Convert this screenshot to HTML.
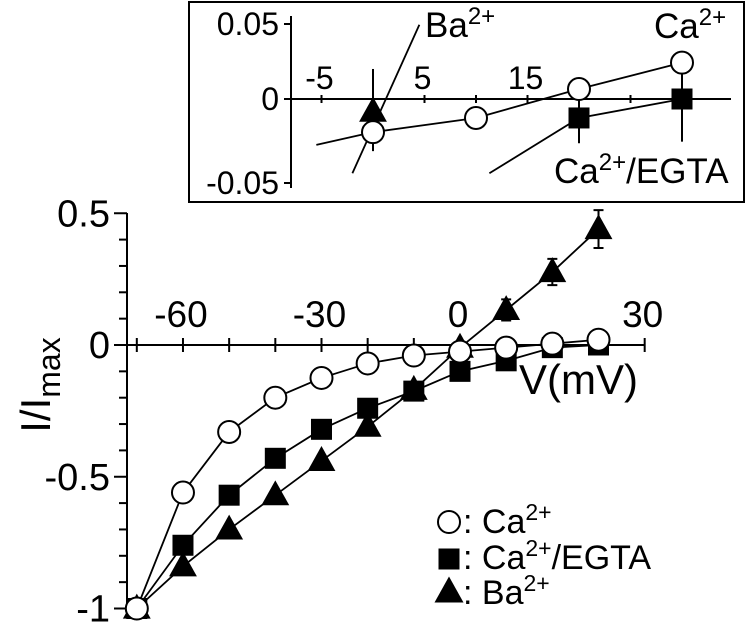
<!DOCTYPE html>
<html><head><meta charset="utf-8"><style>
html,body{margin:0;padding:0;background:#fff;}
svg{display:block;font-family:"Liberation Sans",Arial,sans-serif;}
</style></head><body>
<svg id="chart" width="750" height="623" viewBox="0 0 750 623" xmlns="http://www.w3.org/2000/svg">
<g id="main"></g>
<g id="inset"></g>
<g id="legend"></g>
</svg>
<script>
// ---- main chart data ----
const voltages = [-70,-60,-50,-40,-30,-20,-10,0,10,20,30];
const caValues = [-1,-0.56,-0.33,-0.20,-0.125,-0.07,-0.04,-0.025,-0.01,0.005,0.02];
const egtaValues = [-1,-0.76,-0.57,-0.43,-0.32,-0.24,-0.175,-0.10,-0.06,-0.01,0.0];
const baValues = [-1,-0.84,-0.70,-0.57,-0.44,-0.31,-0.17,-0.01,0.133,0.277,0.44];
const baErrors = [0,0,0,0,0,0,0,0,0.04,0.05,0.072];
const xTickValues = [-70,-60,-50,-40,-30,-20,-10,0,10,20,30,40];
const xTickLabels = [["-60",-60],["-30",-30],["0",0],["30",40]];
const yTickLabels = [["0.5",0.5],["0",0],["-0.5",-0.5],["-1",-1]];
// ---- inset data ----
const insetV = [0,10,20,30];
const insetCa = [-0.021,-0.012,0.0063,0.023];
const insetCaErr = [0.012,0,0,0];
const insetEgtaV = [20,30];
const insetEgta = [-0.012,0.0];
const insetEgtaErr = [0.016,0.027];
const insetBaV = [0];
const insetBa = [-0.008];
const insetBaErr = [0.027];
const insetCaLine = [[-5.5,-0.029],[0,-0.021],[10,-0.012],[20,0.0063],[30,0.023]];
const insetEgtaLine = [[11.3,-0.047],[20,-0.012],[30,0.0]];
const insetBaLine = [[-2.0,-0.047],[4.5,0.047]];
const insetXTicks = [-5,0,5,10,15,20,25];
const insetXLabels = [["-5",-5],["5",5],["15",15]];
const insetYLabels = [["0.05",0.05],["0",0],["-0.05",-0.05]];

const NS="http://www.w3.org/2000/svg";
function mk(parent,tag,attrs,text){const e=document.createElementNS(NS,tag);for(const k in attrs)e.setAttribute(k,attrs[k]);if(text!==undefined)e.textContent=text;parent.appendChild(e);return e;}
const X=v=>460+(v)*4.617;
const Y=v=>345-v*263.5;
const IX=v=>373+v*10.3;
const IY=v=>99-v*1580;

const main=document.getElementById('main');
let e=mk(main,'line',{x1:127,y1:213,x2:127,y2:608,stroke:'#000','stroke-width':2});

e=mk(main,'line',{x1:127,y1:345,x2:645,y2:345,stroke:'#000','stroke-width':2});

for(let i=-10;i<=5;i++){const v=i/10;const major=(i%5===0);
 e=mk(main,'line',{x1:major?114:119,y1:Y(v),x2:127,y2:Y(v),stroke:'#000','stroke-width':2});
 }
xTickValues.forEach(v=>{e=mk(main,'line',{x1:X(v),y1:338,x2:X(v),y2:352,stroke:'#000','stroke-width':2});
 });
xTickLabels.forEach(([t,v])=>{e=mk(main,'text',{x:X(v)-2,y:327,'font-size':37,'text-anchor':'middle'},t);
 });
yTickLabels.forEach(([t,v])=>{e=mk(main,'text',{x:110,y:Y(v)+13,'font-size':38,'text-anchor':'end'},t);
 });
e=mk(main,'text',{x:0,y:0,'font-size':42,transform:'translate(50,385) rotate(-90)','text-anchor':'middle'});
e.innerHTML='I/I<tspan font-size="32" dy="10">max</tspan>';

e=mk(main,'text',{x:519,y:394,'font-size':42},'V(mV)');


function poly(g,pts,name){const el=mk(g,'polyline',{points:pts.map(p=>p.join(',')).join(' '),fill:'none',stroke:'#000','stroke-width':1.8});
 }
poly(main,voltages.map((v,i)=>[X(v),Y(caValues[i])]),'ca-line');
poly(main,voltages.map((v,i)=>[X(v),Y(egtaValues[i])]),'egta-line');
poly(main,voltages.map((v,i)=>[X(v),Y(baValues[i])]),'ba-line');

function errbar(g,x,y1,y2){const el=mk(g,'path',{d:`M${x},${y1}V${y2}M${x-5},${y1}H${x+5}M${x-5},${y2}H${x+5}`,stroke:'#000','stroke-width':2,fill:'none'});
 }
function tri(g,x,y,s,name){const el=mk(g,'polygon',{points:`${x},${y-s*0.62} ${x-s*0.58},${y+s*0.42} ${x+s*0.58},${y+s*0.42}`,fill:'#000'});
 }
function sq(g,x,y,s,name){const el=mk(g,'rect',{x:x-s/2,y:y-s/2,width:s,height:s,fill:'#000'});
 }
function circ(g,x,y,r,name){const el=mk(g,'circle',{cx:x,cy:y,r:r,fill:'#fff',stroke:'#000','stroke-width':2});
 }

voltages.forEach((v,i)=>{if(baErrors[i]>0)errbar(main,X(v),Y(baValues[i]+baErrors[i]),Y(baValues[i]-baErrors[i]));});
voltages.forEach((v,i)=>tri(main,X(v),Y(baValues[i]),24,'ba-point'));
voltages.forEach((v,i)=>sq(main,X(v),Y(egtaValues[i]),21,'egta-point'));
voltages.forEach((v,i)=>circ(main,X(v),Y(caValues[i]),11,'ca-point'));

// ---- inset ----
const ins=document.getElementById('inset');
e=mk(ins,'rect',{x:189,y:2,width:555,height:200,fill:'#fff',stroke:'#000','stroke-width':2});

e=mk(ins,'line',{x1:291,y1:16,x2:291,y2:188,stroke:'#000','stroke-width':2});

e=mk(ins,'line',{x1:291,y1:99,x2:731,y2:99,stroke:'#000','stroke-width':2});

insetYLabels.forEach(([t,v])=>{const yy=IY(v)+(v>0?4:(v<0?5:0));
 e=mk(ins,'line',{x1:284,y1:yy,x2:291,y2:yy,stroke:'#000','stroke-width':2});
 
 e=mk(ins,'text',{x:279,y:yy+11,'font-size':32,'text-anchor':'end'},t);
 });
insetXTicks.forEach(v=>{e=mk(ins,'line',{x1:IX(v),y1:95,x2:IX(v),y2:103,stroke:'#000','stroke-width':2});
 });
insetXLabels.forEach(([t,v])=>{e=mk(ins,'text',{x:IX(v)-2,y:89,'font-size':32,'text-anchor':'middle'},t);
 });
poly(ins,insetCaLine.map(p=>[IX(p[0]),IY(p[1])]),'inset-ca-line');
poly(ins,insetEgtaLine.map(p=>[IX(p[0]),IY(p[1])]),'inset-egta-line');
poly(ins,insetBaLine.map(p=>[IX(p[0]),IY(p[1])]),'inset-ba-line');
function vbar(g,x,y1,y2){const el=mk(g,'line',{x1:x,y1:y1,x2:x,y2:y2,stroke:'#000','stroke-width':2});
 }
insetBaV.forEach((v,i)=>vbar(ins,IX(v),IY(insetBa[i]+insetBaErr[i]),IY(insetBa[i])));
insetEgtaV.forEach((v,i)=>vbar(ins,IX(v),IY(insetEgta[i]+insetEgtaErr[i]),IY(insetEgta[i]-insetEgtaErr[i])));
insetV.forEach((v,i)=>{if(insetCaErr[i]>0)vbar(ins,IX(v),IY(insetCa[i]),IY(insetCa[i]-insetCaErr[i]));});
insetV.forEach((v,i)=>circ(ins,IX(v),IY(insetCa[i]),11,'inset-ca-point'));
insetEgtaV.forEach((v,i)=>sq(ins,IX(v),IY(insetEgta[i]),21,'inset-egta-point'));
insetBaV.forEach((v,i)=>tri(ins,IX(v),IY(insetBa[i]),24,'inset-ba-point'));
e=mk(ins,'text',{x:425,y:37,'font-size':35});e.innerHTML='Ba<tspan font-size="24" dy="-13">2+</tspan>';

e=mk(ins,'text',{x:654,y:38,'font-size':35});e.innerHTML='Ca<tspan font-size="24" dy="-13">2+</tspan>';

e=mk(ins,'text',{x:554,y:183,'font-size':35});e.innerHTML='Ca<tspan font-size="24" dy="-13">2+</tspan><tspan dy="13">/EGTA</tspan>';


// ---- legend ----
const lg=document.getElementById('legend');
circ(lg,449,522,11,'legend-ca-marker');
sq(lg,449,559,21,'legend-egta-marker');
tri(lg,449,592,25,'legend-ba-marker');
[['Ca','',533],['Ca','/EGTA',569],['Ba','',604]].forEach(([a,b,y],i)=>{
 e=mk(lg,'text',{x:463,y:y,'font-size':34});
 e.innerHTML=': '+a+'<tspan font-size="23" dy="-13">2+</tspan>'+(b?'<tspan dy="13">'+b+'</tspan>':'');
 });
</script>
</body></html>
